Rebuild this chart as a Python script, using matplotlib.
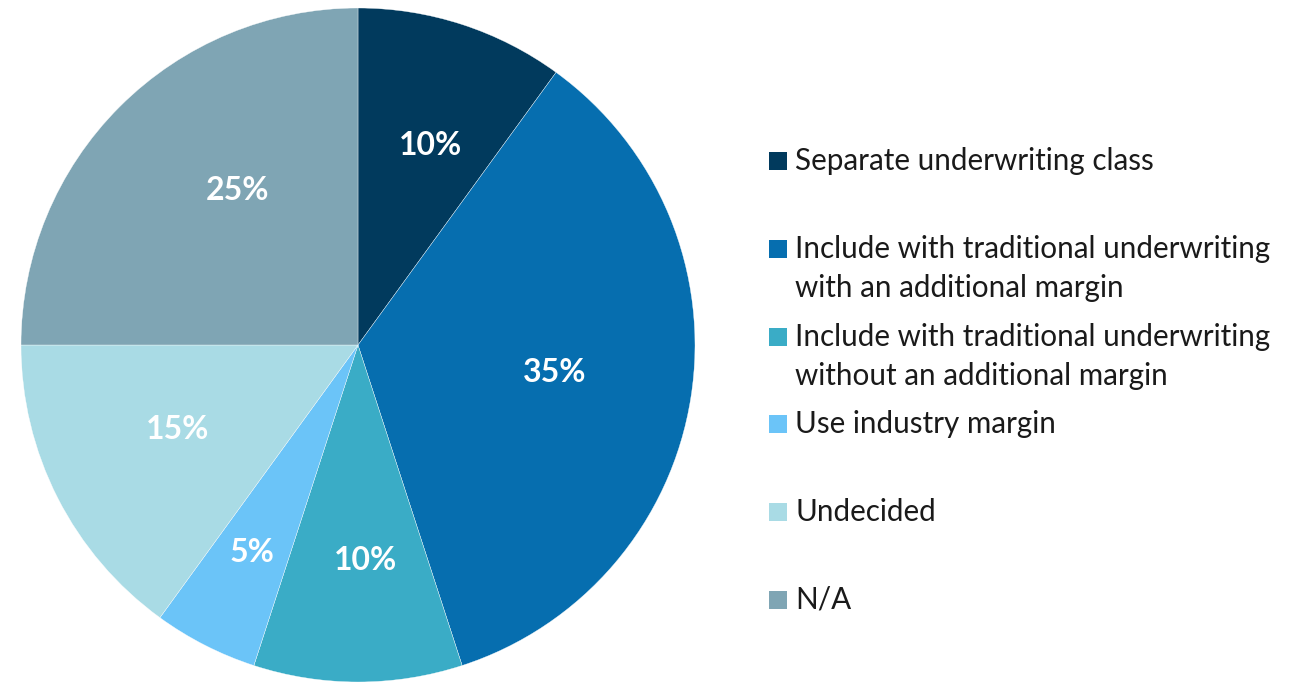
import matplotlib
matplotlib.use("Agg")
import matplotlib.pyplot as plt
from matplotlib.patches import Rectangle
import numpy as np

plt.rcParams['font.family'] = ['Lato', 'DejaVu Sans']

categories = [
    "Separate underwriting class",
    "Include with traditional underwriting\nwith an additional margin",
    "Include with traditional underwriting\nwithout an additional margin",
    "Use industry margin",
    "Undecided",
    "N/A",
]
shares = [10, 35, 10, 5, 15, 25]
colors = ["#013A5D", "#066EAF", "#3AACC6", "#6BC4F8", "#A9DBE5", "#7FA5B4"]

# label placement inside each wedge (fraction of radius, angle nudge in degrees)
label_radius = [0.63, 0.59, 0.64, 0.69, 0.59, 0.58]
label_nudge = [-2, 1, 2, 0, -2, -7]

W, H = 1296, 682
fig = plt.figure(figsize=(W / 100, H / 100), dpi=100)
fig.patch.set_facecolor("white")

cx, cy, r = 358, 345, 337
ax = fig.add_axes([(cx - r) / W, (H - cy - r) / H, 2 * r / W, 2 * r / H])
wedges, _ = ax.pie(shares, colors=colors, startangle=90, counterclock=False,
                   radius=1.0, wedgeprops=dict(edgecolor="white", linewidth=0.25))
ax.set_xlim(-1, 1)
ax.set_ylim(-1, 1)
ax.set_aspect("equal")
ax.axis("off")

for w, v, lr, dn in zip(wedges, shares, label_radius, label_nudge):
    mid = np.deg2rad((w.theta1 + w.theta2) / 2 + dn)
    ax.text(lr * np.cos(mid), lr * np.sin(mid), f"{v}%", color="white",
            fontsize=23, fontweight="bold", ha="center", va="center")

# legend column: colour square plus one or two text lines per entry
box = 18
y0, dy, line_h = 161, 87.8, 39
for i, (lab, col) in enumerate(zip(categories, colors)):
    yc = y0 + i * dy
    fig.patches.append(Rectangle((769 / W, (H - yc - box / 2) / H), box / W, box / H,
                                 transform=fig.transFigure, facecolor=col,
                                 edgecolor="none"))
    for k, line in enumerate(lab.split("\n")):
        fig.text(795 / W, (H - yc - 9 - k * line_h) / H, line, fontsize=21.3,
                 color="#1a1a1a", ha="left", va="baseline")

fig.savefig("out.png", dpi=100)
